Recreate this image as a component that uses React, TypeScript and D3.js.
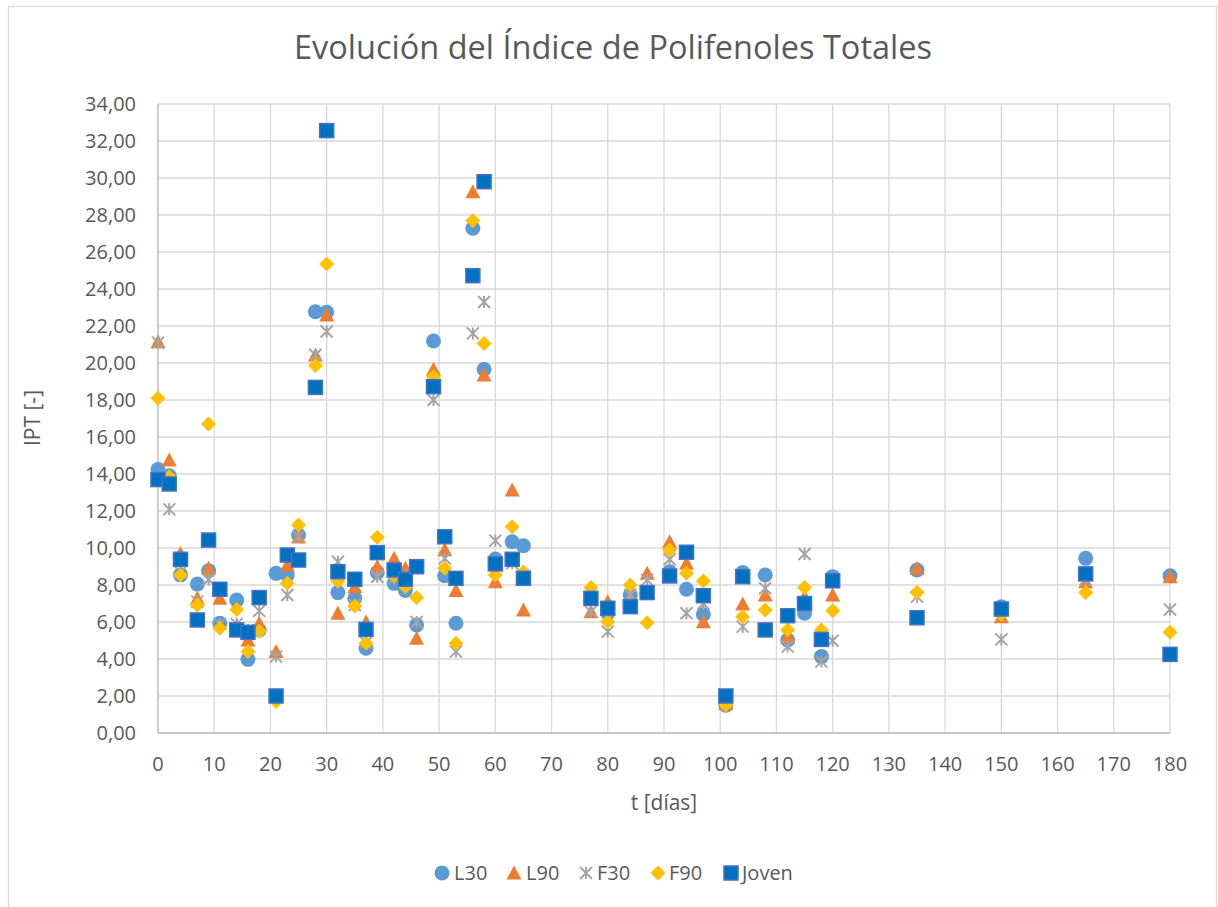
import React from "react";
import * as d3 from "d3";

const days = [0,2,4,7,9,11,14,16,18,21,23,25,28,30,32,35,37,39,42,44,46,49,51,53,56,58,60,63,65,77,80,84,87,91,94,97,101,104,108,112,115,118,120,135,150,165,180];

const L30 = [14.25,13.9,8.55,8.05,8.77,5.93,7.19,3.98,5.57,8.63,8.54,10.7,22.77,22.75,7.59,7.28,4.58,8.68,8.09,7.7,5.84,21.19,8.5,5.93,27.28,19.66,9.4,10.34,10.12,7.3,6.47,7.46,7.6,8.72,7.77,6.41,1.5,8.67,8.54,5.03,6.47,4.13,8.45,8.81,6.83,9.44,8.5];
const L90 = [21.15,14.76,9.7,7.28,8.9,7.28,5.8,5.03,5.93,4.4,9.08,10.6,20.43,22.6,6.47,7.9,6.0,9.0,9.44,8.9,5.12,19.66,9.9,7.7,29.26,19.35,8.18,13.14,6.65,6.56,7.1,7.3,8.63,10.34,9.17,6.02,1.6,6.97,7.46,5.2,7.37,5.3,7.46,8.9,6.29,8.18,8.45];
const F30 = [21.1,12.09,8.7,7.1,8.3,5.9,5.9,5.57,6.6,4.13,7.46,10.6,20.43,21.7,9.26,6.92,4.9,8.45,8.36,8.5,6.0,18.0,9.44,4.4,21.6,23.3,10.4,9.17,8.5,6.56,5.48,7.46,8.27,9.39,6.47,7.0,1.7,5.75,7.82,4.67,9.68,3.86,4.99,7.37,5.06,8.3,6.68];
const F90 = [18.09,13.85,8.54,6.92,16.7,5.66,6.68,4.4,5.5,1.7,8.09,11.24,19.86,25.35,8.2,6.86,4.85,10.58,8.5,7.9,7.33,19.26,8.9,4.85,27.7,21.06,8.54,11.15,8.7,7.87,6.02,8.0,5.96,9.89,8.63,8.22,1.51,6.29,6.65,5.57,7.86,5.57,6.61,7.6,6.4,7.59,5.44];
const Joven = [13.7,13.46,9.39,6.11,10.43,7.77,5.57,5.44,7.32,2.0,9.62,9.35,18.68,32.56,8.72,8.31,5.6,9.75,8.81,8.31,8.99,18.72,10.61,8.36,24.72,29.8,9.14,9.39,8.36,7.28,6.74,6.83,7.59,8.49,9.77,7.42,2.0,8.45,5.57,6.34,7.0,5.06,8.23,6.23,6.7,8.6,4.25];

const seriesNames = ["L30", "L90", "F30", "F90", "Joven"];
const seriesValues = [L30, L90, F30, F90, Joven];
const xTicks = d3.range(0, 181, 10);
const yTicks = d3.range(0, 35, 2);

const title = "Evolución del Índice de Polifenoles Totales";
const xTitle = "t [días]";
const yTitle = "IPT [-]";

const colors: Record<string, string> = {
  L30: "#5B9BD5",
  L90: "#ED7D31",
  F30: "#A5A5A5",
  F90: "#FFC000",
  Joven: "#0070C0",
};

const FONT = "'Open Sans', 'Noto Sans', sans-serif";
const TXT = "#595959";
const GRID = "#d9d9d9";

function Marker({ name, cx, cy }: { name: string; cx: number; cy: number }) {
  const c = colors[name];
  if (name === "L30") return <circle cx={cx} cy={cy} r={7.5} fill={c} />;
  if (name === "L90") {
    const h = 13, w = 15;
    return (
      <path d={`M${cx},${cy - h / 2 - 1}L${cx + w / 2},${cy + h / 2}L${cx - w / 2},${cy + h / 2}Z`} fill={c} />
    );
  }
  if (name === "F30") {
    const s = 6;
    return (
      <path
        d={`M${cx - s},${cy - s}L${cx + s},${cy + s}M${cx - s},${cy + s}L${cx + s},${cy - s}M${cx},${cy - s}L${cx},${cy + s}`}
        stroke={c}
        strokeWidth={2}
        fill="none"
      />
    );
  }
  if (name === "F90") {
    const s = 7.5;
    return <path d={`M${cx},${cy - s}L${cx + s},${cy}L${cx},${cy + s}L${cx - s},${cy}Z`} fill={c} />;
  }
  return (
    <rect x={cx - 7} y={cy - 7} width={14} height={14} fill={c} stroke="#4472C4" strokeWidth={1.5} />
  );
}

export default function App() {
  const W = 1218, H = 907;
  const left = 158, right = 1170, top = 104, bottom = 733;
  const x = d3.scaleLinear().domain([0, 180]).range([left, right]);
  const y = d3.scaleLinear().domain([0, 34]).range([bottom, top]);

  const legendItems = [
    { name: "L30", mx: 442, tx: 454 },
    { name: "L90", mx: 514, tx: 526 },
    { name: "F30", mx: 586, tx: 597 },
    { name: "F90", mx: 658, tx: 669 },
    { name: "Joven", mx: 731, tx: 742 },
  ];

  return (
    <svg width={W} height={H} style={{ position: "absolute", left: 0, top: 0, background: "#fff" }} fontFamily={FONT}>
      <rect x={8.5} y={6.5} width={1208} height={920} fill="#fff" stroke={GRID} strokeWidth={1.3} />
      <text x={613} y={59} textAnchor="middle" fontSize={32.5} fill={TXT}>{title}</text>

      {yTicks.map((t) => (
        <line key={"gy" + t} x1={left} x2={right} y1={y(t)} y2={y(t)} stroke={GRID} strokeWidth={1.3} />
      ))}
      {xTicks.map((t) => (
        <line key={"gx" + t} x1={x(t)} x2={x(t)} y1={top} y2={bottom} stroke={GRID} strokeWidth={1.3} />
      ))}
      <line x1={left} x2={right} y1={bottom} y2={bottom} stroke="#bfbfbf" strokeWidth={1.3} />
      <line x1={left} x2={left} y1={top} y2={bottom} stroke="#bfbfbf" strokeWidth={1.3} />

      {yTicks.map((t) => (
        <text key={"ly" + t} x={136} y={y(t)} dy="0.36em" textAnchor="end" fontSize={20} fill={TXT}>
          {d3.format(".2f")(t).replace(".", ",")}
        </text>
      ))}
      {xTicks.map((t) => (
        <text key={"lx" + t} x={x(t)} y={771} textAnchor="middle" fontSize={20} fill={TXT}>{t}</text>
      ))}

      <text x={664} y={810} textAnchor="middle" fontSize={21} fill={TXT}>{xTitle}</text>
      <text transform={`translate(40,418) rotate(-90)`} textAnchor="middle" fontSize={21} fill={TXT}>{yTitle}</text>

      {seriesNames.map((name, si) => (
        <g key={name}>
          {days.map((d, i) => {
            const v = seriesValues[si][i];
            if (v == null) return null;
            return <Marker key={i} name={name} cx={x(d)} cy={y(v)} />;
          })}
        </g>
      ))}

      {legendItems.map((it) => (
        <g key={it.name}>
          <Marker name={it.name} cx={it.mx} cy={873} />
          <text x={it.tx} y={880} fontSize={20} fill={TXT}>{it.name}</text>
        </g>
      ))}
    </svg>
  );
}
